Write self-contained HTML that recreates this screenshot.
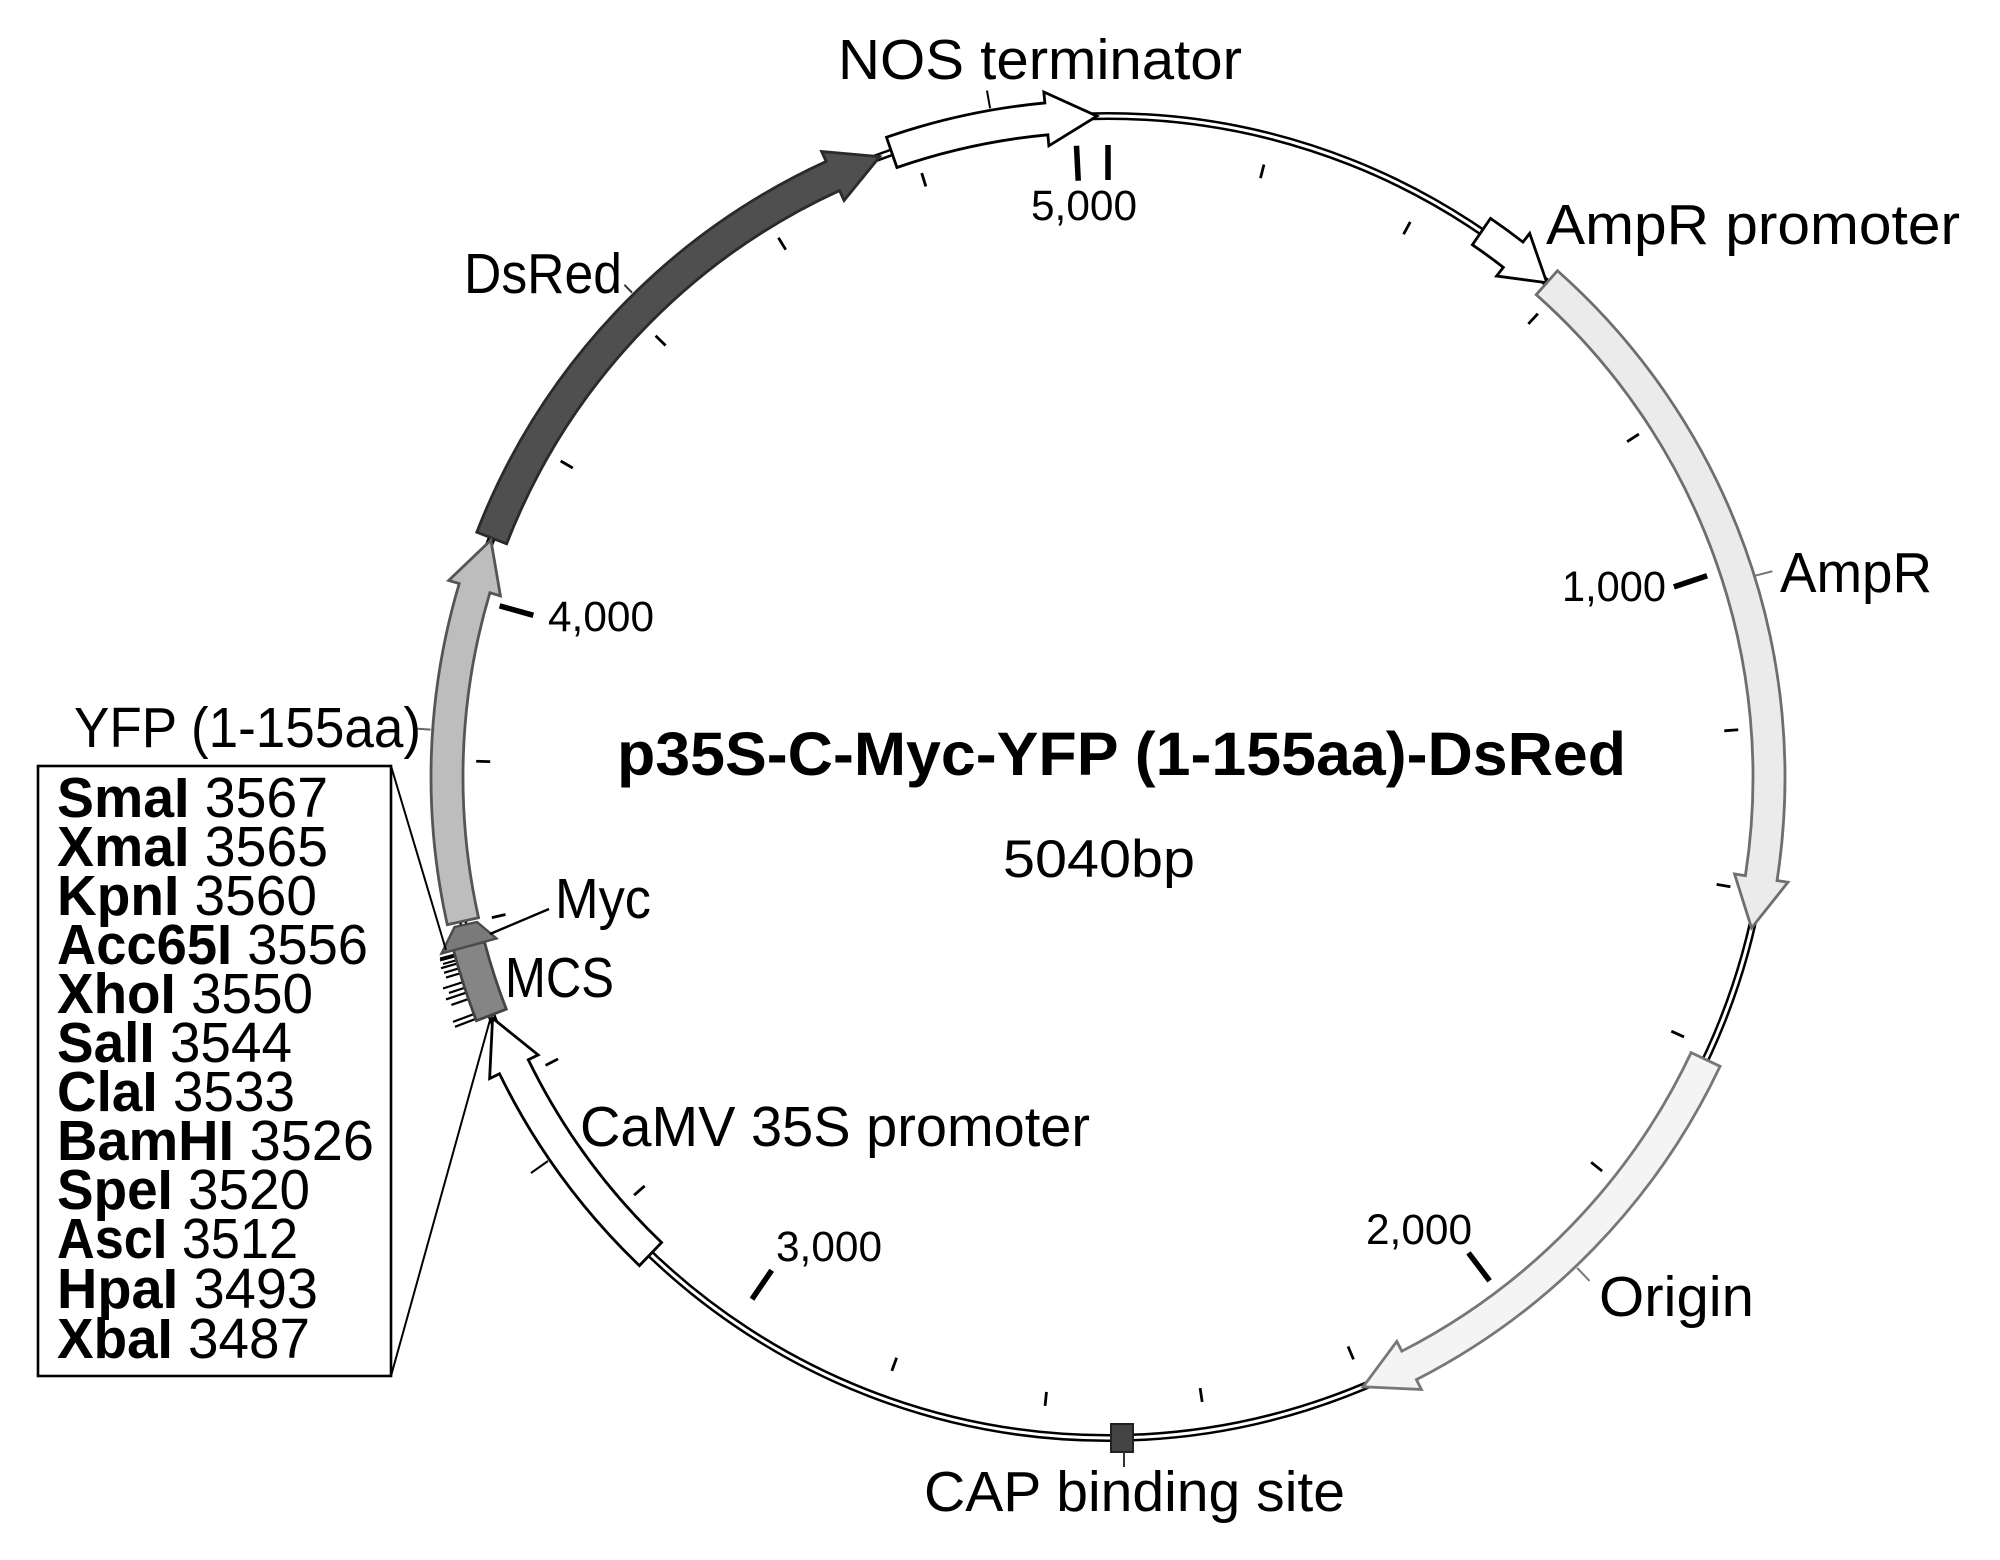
<!DOCTYPE html>
<html>
<head>
<meta charset="utf-8">
<style>
  html,body{margin:0;padding:0;background:#fff;}
  svg{display:block;}
  text{font-family:"Liberation Sans",sans-serif;fill:#000;}
</style>
</head>
<body>
<svg width="2000" height="1560" viewBox="0 0 2000 1560" xmlns="http://www.w3.org/2000/svg">
  <rect x="0" y="0" width="2000" height="1560" fill="#fff"/>

  <!-- backbone ring (double line) -->
  <circle cx="1108" cy="777" r="661" fill="none" stroke="#000" stroke-width="8"/>
  <circle cx="1108" cy="777" r="661" fill="none" stroke="#fff" stroke-width="3"/>

  <!-- minor ticks -->
  <g stroke="#000" stroke-width="2.8" stroke-linecap="butt">
    <line x1="1260.50" y1="178.11" x2="1263.95" y2="164.54"/>
    <line x1="1403.56" y1="234.26" x2="1410.26" y2="221.96"/>
    <line x1="1528.35" y1="323.98" x2="1537.87" y2="313.71"/>
    <line x1="1627.14" y1="441.70" x2="1638.90" y2="434.11"/>
    <line x1="1724.27" y1="730.82" x2="1738.23" y2="729.77"/>
    <line x1="1716.61" y1="884.32" x2="1730.40" y2="886.75"/>
    <line x1="1671.31" y1="1031.17" x2="1684.07" y2="1036.93"/>
    <line x1="1591.17" y1="1162.32" x2="1602.12" y2="1171.05"/>
    <line x1="1348.05" y1="1346.47" x2="1353.49" y2="1359.38"/>
    <line x1="1200.11" y1="1388.10" x2="1202.19" y2="1401.94"/>
    <line x1="1046.47" y1="1391.93" x2="1045.07" y2="1405.86"/>
    <line x1="896.63" y1="1357.73" x2="891.84" y2="1370.88"/>
    <line x1="644.63" y1="1185.92" x2="634.13" y2="1195.19"/>
    <line x1="558.05" y1="1058.94" x2="545.60" y2="1065.32"/>
    <line x1="505.49" y1="914.52" x2="491.84" y2="917.63"/>
    <line x1="490.19" y1="761.59" x2="476.20" y2="761.24"/>
    <line x1="572.79" y1="468.00" x2="560.67" y2="461.00"/>
    <line x1="665.59" y1="345.49" x2="655.57" y2="335.71"/>
    <line x1="785.75" y1="249.67" x2="778.45" y2="237.72"/>
    <line x1="925.84" y1="186.46" x2="921.71" y2="173.08"/>
  </g>
  <!-- major ticks -->
  <g stroke="#000" stroke-width="5.5" stroke-linecap="butt">
    <line x1="1108" y1="180" x2="1108" y2="145"/>
    <line x1="1078.24" y1="180.74" x2="1076.49" y2="145.78"/>
    <line x1="1673.91" y1="586.87" x2="1707.09" y2="575.72"/>
    <line x1="1468.47" y1="1252.89" x2="1489.61" y2="1280.79"/>
    <line x1="771.70" y1="1270.27" x2="751.98" y2="1299.18"/>
    <line x1="533.31" y1="615.31" x2="499.62" y2="605.84"/>
  </g>

  <!-- restriction site lines at MCS -->
  <g stroke="#000" stroke-width="2.2">
    <line x1="489.69" y1="1013.49" x2="455.0" y2="1026.8"/>
    <line x1="487.92" y1="1008.84" x2="453.0" y2="1021.9"/>
    <line x1="482.60" y1="994.06" x2="451.4" y2="1004.9"/>
    <line x1="480.46" y1="987.82" x2="446.0" y2="999.4"/>
    <line x1="478.89" y1="983.11" x2="449.0" y2="992.9"/>
    <line x1="477.13" y1="977.61" x2="443.0" y2="988.5"/>
    <line x1="474.45" y1="969.00" x2="446.0" y2="977.6"/>
    <line x1="473.03" y1="964.24" x2="444.0" y2="972.8"/>
    <line x1="471.65" y1="959.47" x2="441.0" y2="968.2"/>
    <line x1="470.73" y1="956.25" x2="443.0" y2="964.0"/>
    <line x1="469.65" y1="952.35" x2="440.0" y2="960.5"/>
    <line x1="469.19" y1="950.68" x2="440.0" y2="958.6"/>
  </g>

  <!-- features -->
  <path d="M896.94,167.51 L886.47,137.27 A677,677 0 0 1 1044.88,102.95 L1043.85,92 L1097.04,116.09 L1048.89,145.76 L1047.86,134.81 A645,645 0 0 0 896.94,167.51 Z" fill="#fff" stroke="#000" stroke-width="2.8"/>
  <path d="M506.65,543.76 L476.82,532.18 A677,677 0 0 1 826.18,161.45 L821.6,151.44 L879.76,156.66 L844.08,200.54 L839.5,190.54 A645,645 0 0 0 506.65,543.76 Z" fill="#4f4f4f" stroke="#2a2a2a" stroke-width="2.8"/>
  <path d="M478.53,917.7 L447.3,924.68 A677,677 0 0 1 459.22,583.59 L448.68,580.45 L490.9,540.12 L500.43,595.87 L489.88,592.73 A645,645 0 0 0 478.53,917.7 Z" fill="#bdbdbd" stroke="#555" stroke-width="2.8"/>
  <path d="M506.25,1009.19 L476.39,1020.71 A677,677 0 0 1 453.46,949.94 L484.4,941.77 A645,645 0 0 0 506.25,1009.19 Z" fill="#858585" stroke="#444" stroke-width="2.8"/>
  <path d="M441.5,953.5 L454.5,927.0 L477.0,922.0 L496.5,938.5 Z" fill="#7a7a7a" stroke="#4a4a4a" stroke-width="2.4"/>
  <path d="M661.57,1242.54 L639.42,1265.63 A677,677 0 0 1 499.52,1073.78 L489.63,1078.6 L492.57,1018.19 L538.17,1054.93 L528.28,1059.74 A645,645 0 0 0 661.57,1242.54 Z" fill="#fff" stroke="#000" stroke-width="2.8"/>
  <path d="M1472.41,244.8 L1490.48,218.39 A677,677 0 0 1 1522.94,242.06 L1529.68,233.37 L1546.85,282.71 L1496.58,276.04 L1503.33,267.35 A645,645 0 0 0 1472.41,244.8 Z" fill="#fff" stroke="#000" stroke-width="2.8"/>
  <path d="M1536.23,294.68 L1557.47,270.75 A677,677 0 0 1 1777.03,880.57 L1787.9,882.26 L1751.54,927.94 L1734.54,874 L1745.41,875.68 A645,645 0 0 0 1536.23,294.68 Z" fill="#ebebeb" stroke="#6e6e6e" stroke-width="2.8"/>
  <path d="M1691.13,1052.65 L1720.06,1066.32 A677,677 0 0 1 1416.4,1379.67 L1421.41,1389.46 L1363.09,1386.8 L1396.81,1341.39 L1401.82,1351.19 A645,645 0 0 0 1691.13,1052.65 Z" fill="#f4f4f4" stroke="#777" stroke-width="2.8"/>
  <rect x="1111" y="1424" width="22" height="28" fill="#444" stroke="#222" stroke-width="2"/>

  <!-- label leader lines -->
  <g stroke-width="2">
    <line x1="990.09" y1="108.31" x2="986.97" y2="90.59" stroke="#000"/>
    <line x1="632.08" y1="292.70" x2="624.37" y2="284.86" stroke="#333"/>
    <line x1="430.66" y1="729.63" x2="417.69" y2="728.73" stroke="#666"/>
    <line x1="1755.22" y1="575.69" x2="1772.37" y2="571.25" stroke="#777"/>
    <line x1="1577.11" y1="1267.90" x2="1589.54" y2="1280.91" stroke="#777"/>
    <line x1="548" y1="1161" x2="531" y2="1173" stroke="#000"/>
    <line x1="1124" y1="1452" x2="1124" y2="1467" stroke="#333"/>
    <line x1="490" y1="934" x2="549" y2="909" stroke="#000" stroke-width="2.4"/>
  </g>

  <!-- MCS detail box -->
  <rect x="38" y="766" width="353" height="610" fill="none" stroke="#000" stroke-width="2.6"/>
  <line x1="391" y1="766" x2="446" y2="950" stroke="#000" stroke-width="2"/>
  <line x1="391" y1="1376" x2="490" y2="1020" stroke="#000" stroke-width="2"/>

  <g font-size="57">
    <text x="57" y="817" textLength="271" lengthAdjust="spacingAndGlyphs"><tspan font-weight="bold">SmaI</tspan> 3567</text>
    <text x="57" y="866" textLength="271" lengthAdjust="spacingAndGlyphs"><tspan font-weight="bold">XmaI</tspan> 3565</text>
    <text x="57" y="915" textLength="260" lengthAdjust="spacingAndGlyphs"><tspan font-weight="bold">KpnI</tspan> 3560</text>
    <text x="57" y="964" textLength="311" lengthAdjust="spacingAndGlyphs"><tspan font-weight="bold">Acc65I</tspan> 3556</text>
    <text x="57" y="1013" textLength="256" lengthAdjust="spacingAndGlyphs"><tspan font-weight="bold">XhoI</tspan> 3550</text>
    <text x="57" y="1062" textLength="235" lengthAdjust="spacingAndGlyphs"><tspan font-weight="bold">SalI</tspan> 3544</text>
    <text x="57" y="1111" textLength="238" lengthAdjust="spacingAndGlyphs"><tspan font-weight="bold">ClaI</tspan> 3533</text>
    <text x="57" y="1160" textLength="317" lengthAdjust="spacingAndGlyphs"><tspan font-weight="bold">BamHI</tspan> 3526</text>
    <text x="57" y="1209" textLength="253" lengthAdjust="spacingAndGlyphs"><tspan font-weight="bold">SpeI</tspan> 3520</text>
    <text x="57" y="1258" textLength="241" lengthAdjust="spacingAndGlyphs"><tspan font-weight="bold">AscI</tspan> 3512</text>
    <text x="57" y="1308" textLength="261" lengthAdjust="spacingAndGlyphs"><tspan font-weight="bold">HpaI</tspan> 3493</text>
    <text x="57" y="1358" textLength="253" lengthAdjust="spacingAndGlyphs"><tspan font-weight="bold">XbaI</tspan> 3487</text>
  </g>

  <!-- feature labels -->
  <g font-size="57">
    <text x="838" y="79" textLength="404" lengthAdjust="spacingAndGlyphs">NOS terminator</text>
    <text x="1546" y="244" textLength="414" lengthAdjust="spacingAndGlyphs">AmpR promoter</text>
    <text x="464" y="293" textLength="158" lengthAdjust="spacingAndGlyphs">DsRed</text>
    <text x="1780" y="592" textLength="152" lengthAdjust="spacingAndGlyphs">AmpR</text>
    <text x="74" y="747" textLength="347" lengthAdjust="spacingAndGlyphs">YFP (1-155aa)</text>
    <text x="555" y="918" textLength="96" lengthAdjust="spacingAndGlyphs">Myc</text>
    <text x="505" y="997" textLength="109" lengthAdjust="spacingAndGlyphs">MCS</text>
    <text x="580" y="1146" textLength="510" lengthAdjust="spacingAndGlyphs">CaMV 35S promoter</text>
    <text x="1599" y="1316" textLength="155" lengthAdjust="spacingAndGlyphs">Origin</text>
    <text x="924" y="1511" textLength="421" lengthAdjust="spacingAndGlyphs">CAP binding site</text>
  </g>

  <!-- position numbers -->
  <g font-size="43">
    <text x="1031" y="220" textLength="106" lengthAdjust="spacingAndGlyphs">5,000</text>
    <text x="1562" y="601" textLength="104" lengthAdjust="spacingAndGlyphs">1,000</text>
    <text x="548" y="631" textLength="106" lengthAdjust="spacingAndGlyphs">4,000</text>
    <text x="1366" y="1244" textLength="106" lengthAdjust="spacingAndGlyphs">2,000</text>
    <text x="776" y="1261" textLength="106" lengthAdjust="spacingAndGlyphs">3,000</text>
  </g>

  <!-- title -->
  <text x="617" y="775" font-size="61" font-weight="bold" textLength="1009" lengthAdjust="spacingAndGlyphs">p35S-C-Myc-YFP (1-155aa)-DsRed</text>
  <text x="1003" y="877" font-size="53" textLength="192" lengthAdjust="spacingAndGlyphs">5040bp</text>
</svg>
</body>
</html>
